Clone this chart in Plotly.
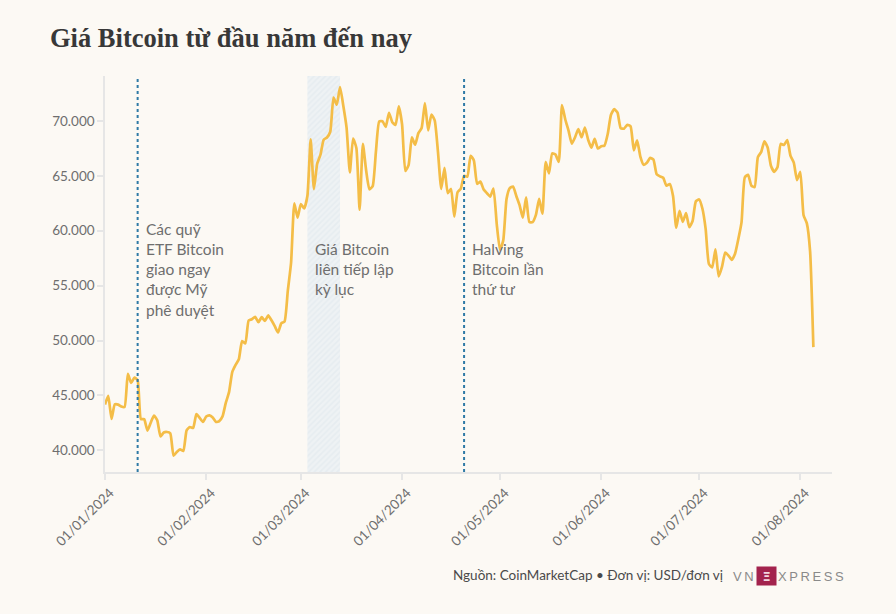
import plotly.graph_objects as go
import pandas as pd

# ---------------- data ----------------
dates = pd.date_range("2024-01-01", "2024-08-05", freq="D").strftime("%Y-%m-%d").tolist()

jan = [44167, 44958, 42848, 44179, 44162, 43989, 43943, 46970, 46139, 46627, 46368, 42853, 42842, 41796,
       42511, 43154, 42742, 41262, 41618, 41665, 41545, 39507, 39845, 40077, 39933, 41816, 42120, 42035,
       43288, 42952, 42582]
feb = [43075, 43185, 42992, 42583, 42659, 43084, 44318, 45301, 47147, 47771, 48293, 49958, 49742, 51826,
       51938, 52160, 51663, 52122, 51779, 52284, 51839, 51304, 50731, 51571, 51733, 54522, 57085, 62504,
       61198]
mar = [62440, 62029, 63167, 68330, 63801, 66106, 66925, 68300, 68498, 69019, 72123, 71481, 73083, 71397,
       69403, 65315, 68391, 67548, 61912, 67913, 65491, 63778, 64062, 67234, 69958, 69987, 69455, 70744,
       69892, 69645, 71333]
apr = [69702, 65446, 65980, 68508, 67837, 68896, 69362, 71631, 69139, 70587, 70060, 67195, 63821, 65738,
       63426, 63811, 61276, 63512, 63843, 64994, 64927, 66837, 66408, 64276, 64482, 63755, 63419, 63114,
       63842, 60636]
may = [58254, 59123, 62889, 63891, 64031, 63162, 62334, 61187, 63050, 60793, 60793, 61448, 62901, 61553,
       66267, 65231, 67051, 66940, 66278, 71448, 70136, 69122, 67929, 68526, 69265, 68518, 69394, 68296,
       67578, 68364, 67491]
jun = [67706, 67751, 68804, 70567, 71082, 70757, 69342, 69305, 69648, 69512, 67332, 68241, 66756, 66012,
       66191, 66639, 66490, 65140, 64960, 64828, 64097, 64252, 63180, 60277, 61804, 60811, 61604, 60320,
       60887, 62678]
jul = [62851, 62029, 60173, 56977, 56662, 58303, 55849, 56705, 58009, 57742, 57344, 57899, 59231, 60787,
       64870, 65097, 64118, 63974, 66710, 67163, 68154, 67585, 65927, 65372, 65777, 67912, 67813, 68255,
       66819, 66201, 64619]
aug = [65357, 61415, 60680, 58116, 49400]
prices = jan + feb + mar + apr + may + jun + jul + aug

tick_dates = ["2024-01-01", "2024-02-01", "2024-03-01", "2024-04-01",
              "2024-05-01", "2024-06-01", "2024-07-01", "2024-08-01"]
y_ticks = [40000, 45000, 50000, 55000, 60000, 65000, 70000]
y_labels = ["40.000", "45.000", "50.000", "55.000", "60.000", "65.000", "70.000"]

etf_date = "2024-01-11"
halving_date = "2024-04-20"
record_start, record_end = "2024-03-03", "2024-03-13"

x_range = ["2024-01-01", "2024-08-10 17:00"]
y_range = [38020, 74100]

title = "Giá Bitcoin từ đầu năm đến nay"
note_etf = "Các quỹ<br>ETF Bitcoin<br>giao ngay<br>được Mỹ<br>phê duyệt"
note_record = "Giá Bitcoin<br>liên tiếp lập<br>kỳ lục"
note_halving = "Halving<br>Bitcoin lần<br>thứ tư"
source = "Nguồn: CoinMarketCap • Đơn vị: USD/đơn vị"
TS = "\u2009"
logo_left = TS.join("VN")
logo_right = TS.join("XPRESS")

# ---------------- style ----------------
BG = "#fcf9f4"
LINE = "#f4bd47"
GREY = "#6e6e6e"
AXIS = "#e6e6e6"
DOT = "#2f7aa6"
FONT = "Lato"

fig = go.Figure()

# hatched record region
fig.add_trace(go.Scatter(
    x=[record_start, record_start, record_end, record_end, record_start],
    y=[y_range[0], y_range[1], y_range[1], y_range[0], y_range[0]],
    mode="lines", line=dict(width=0), fill="toself",
    fillcolor="rgba(0,0,0,0)",
    fillpattern=dict(shape="/", fgcolor="#dee6eb", bgcolor="#eef2f4", size=4, solidity=0.4),
    hoverinfo="skip", showlegend=False,
))

fig.add_trace(go.Scatter(
    x=dates, y=prices, mode="lines",
    line=dict(color=LINE, width=2.7, shape="spline", smoothing=0.5),
    showlegend=False,
))

for d in (etf_date, halving_date):
    fig.add_shape(type="line", xref="x", yref="paper", x0=d, x1=d, y0=0, y1=1,
                  line=dict(color=DOT, width=2, dash="dot"))

for d, txt in ((etf_date, note_etf), (record_start, note_record), (halving_date, note_halving)):
    fig.add_annotation(x=d, y=56450 if txt == note_etf else 56550, xref="x", yref="y",
                       text=txt, showarrow=False, xanchor="left", yanchor="middle",
                       align="left", xshift=6,
                       font=dict(family=FONT, size=15.5, color=GREY))

# footer
fig.add_annotation(xref="paper", yref="paper", x=(725 - 105) / 727, y=-(575 - 472) / 396,
                   text=source, showarrow=False, xanchor="right", yanchor="middle",
                   font=dict(family=FONT, size=13.5, color="#4a4a4a"))
fig.add_annotation(xref="paper", yref="paper", x=(756 - 105) / 727, y=-(576 - 472) / 396,
                   text=logo_left, showarrow=False, xanchor="right", yanchor="middle",
                   font=dict(family="Liberation Sans", size=13, color="#8a8a8a"))
fig.add_annotation(xref="paper", yref="paper", x=(766 - 105) / 727, y=-(576 - 472) / 396,
                   text="<b>Ξ</b>", showarrow=False, xanchor="center", yanchor="middle",
                   bgcolor="#a3234d", borderpad=1, width=17, height=16,
                   font=dict(family="DejaVu Sans", size=13, color="#f3d6df"))
fig.add_annotation(xref="paper", yref="paper", x=(776 - 105) / 727, y=-(576 - 472) / 396,
                   text=logo_right, showarrow=False, xanchor="left", yanchor="middle",
                   font=dict(family="Liberation Sans", size=13, color="#8a8a8a"))

fig.update_layout(
    width=896, height=614,
    margin=dict(l=105, r=64, t=76, b=142),
    paper_bgcolor=BG, plot_bgcolor=BG,
    title=dict(text=f"<b>{title}</b>", xref="container", yref="container",
               x=50 / 896, xanchor="left", y=1 - 38 / 614, yanchor="middle",
               font=dict(family="Liberation Serif", size=26.5, color="#383838")),
    xaxis=dict(type="date", range=x_range, tickvals=tick_dates, tickformat="%d/%m/%Y",
               tickangle=-45, showgrid=False, zeroline=False,
               showline=True, linecolor=AXIS, linewidth=1.5,
               ticks="outside", ticklen=6, tickcolor=AXIS, tickwidth=1.5,
               ticklabelshift=5,
               tickfont=dict(family=FONT, size=13.5, color=GREY)),
    yaxis=dict(range=y_range, tickvals=y_ticks, ticktext=y_labels,
               showgrid=False, zeroline=False,
               showline=True, linecolor=AXIS, linewidth=1.5,
               ticks="outside", ticklen=6, tickcolor=AXIS, tickwidth=1.5,
               tickfont=dict(family=FONT, size=13.5, color=GREY)),
    hovermode=False,
)

fig.write_html("out.html", config={"displayModeBar": False},
               post_script="document.body.style.margin='0';document.body.style.background='#fcf9f4';")
